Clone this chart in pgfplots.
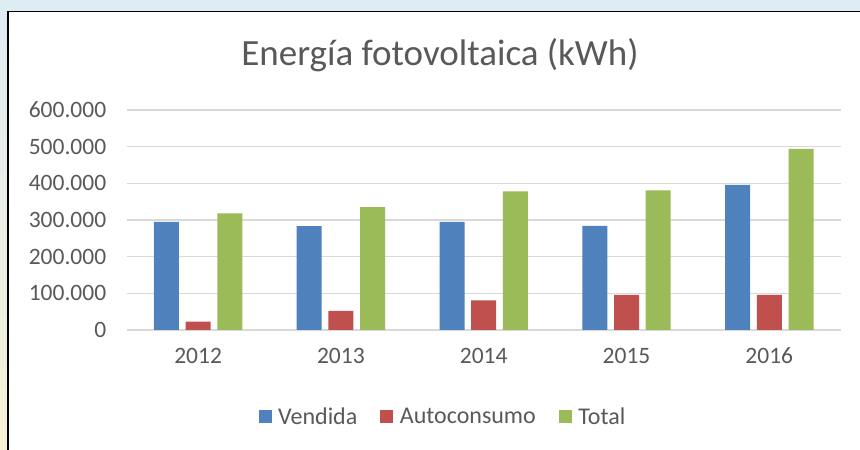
\documentclass[border=0pt]{standalone}
\usepackage{pgfplots}
\pgfplotsset{compat=1.18}
\usepackage{fontspec}
\setmainfont{Carlito}
\definecolor{cBlue}{RGB}{79,129,189}
\definecolor{cRed}{RGB}{192,80,77}
\definecolor{cGreen}{RGB}{155,187,89}
\definecolor{cGrid}{RGB}{217,217,217}
\definecolor{cText}{RGB}{89,89,89}
\definecolor{cBgTop}{RGB}{222,236,244}
\definecolor{cBgBot}{RGB}{247,241,214}
\begin{document}
\begin{tikzpicture}[x=1pt,y=1pt]
\useasboundingbox (0,0) rectangle (860,450);
\shade[top color=cBgTop, bottom color=cBgBot] (0,0) rectangle (860,450);
\fill[white] (8,0) rectangle (860,438.5);
\draw[black, line width=1.5pt] (8,0) -- (8,438.5) -- (860,438.5);
\begin{axis}[
  scale only axis, width=714pt, height=220pt,
  at={(126.7pt,120pt)}, anchor=south west,
  ybar=6.7pt, bar width=25pt,
  xmin=-0.5, xmax=4.5, ymin=0, ymax=600000,
  enlargelimits=false,
  xtick={0,1,2,3,4},
  xticklabels={2012,2013,2014,2015,2016},
  ytick={0,100000,200000,300000,400000,500000,600000},
  yticklabels={0,100.000,200.000,300.000,400.000,500.000,600.000},
  scaled y ticks=false,
  major tick length=0pt,
  axis line style={draw=none},
  ymajorgrids, grid style={cGrid, line width=1.5pt},
  yticklabel style={font=\fontsize{23.5}{28}\selectfont, text=cText, xshift=-17pt},
  xticklabel style={font=\fontsize{23.5}{28}\selectfont, text=cText, yshift=-15pt, text height=15pt, text depth=0pt},
  title={Energía fotovoltaica (kWh)},
  title style={font=\fontsize{37}{44}\selectfont, text=cText, at={(0.4388,1.174)}, anchor=base},
  legend columns=3,
  legend style={draw=none, fill=none, at={(0.443,-0.395)}, anchor=center,
    font=\fontsize{24}{28}\selectfont, text=cText,
    /tikz/every odd column/.append style={column sep=4.5pt},
    /tikz/every even column/.append style={column sep=21pt}},
  legend image code/.code={\fill[#1] (0pt,-6.5pt) rectangle (13pt,6.5pt);},
]
\addplot[fill=cBlue, draw=none] coordinates {(0,295000) (1,283000) (2,295000) (3,284000) (4,396000)};
\addplot[fill=cRed, draw=none] coordinates {(0,23000) (1,52000) (2,81000) (3,96000) (4,96000)};
\addplot[fill=cGreen, draw=none] coordinates {(0,318000) (1,335000) (2,378000) (3,381000) (4,494000)};
\legend{Vendida, Autoconsumo, Total}
\end{axis}
\end{tikzpicture}
\end{document}
